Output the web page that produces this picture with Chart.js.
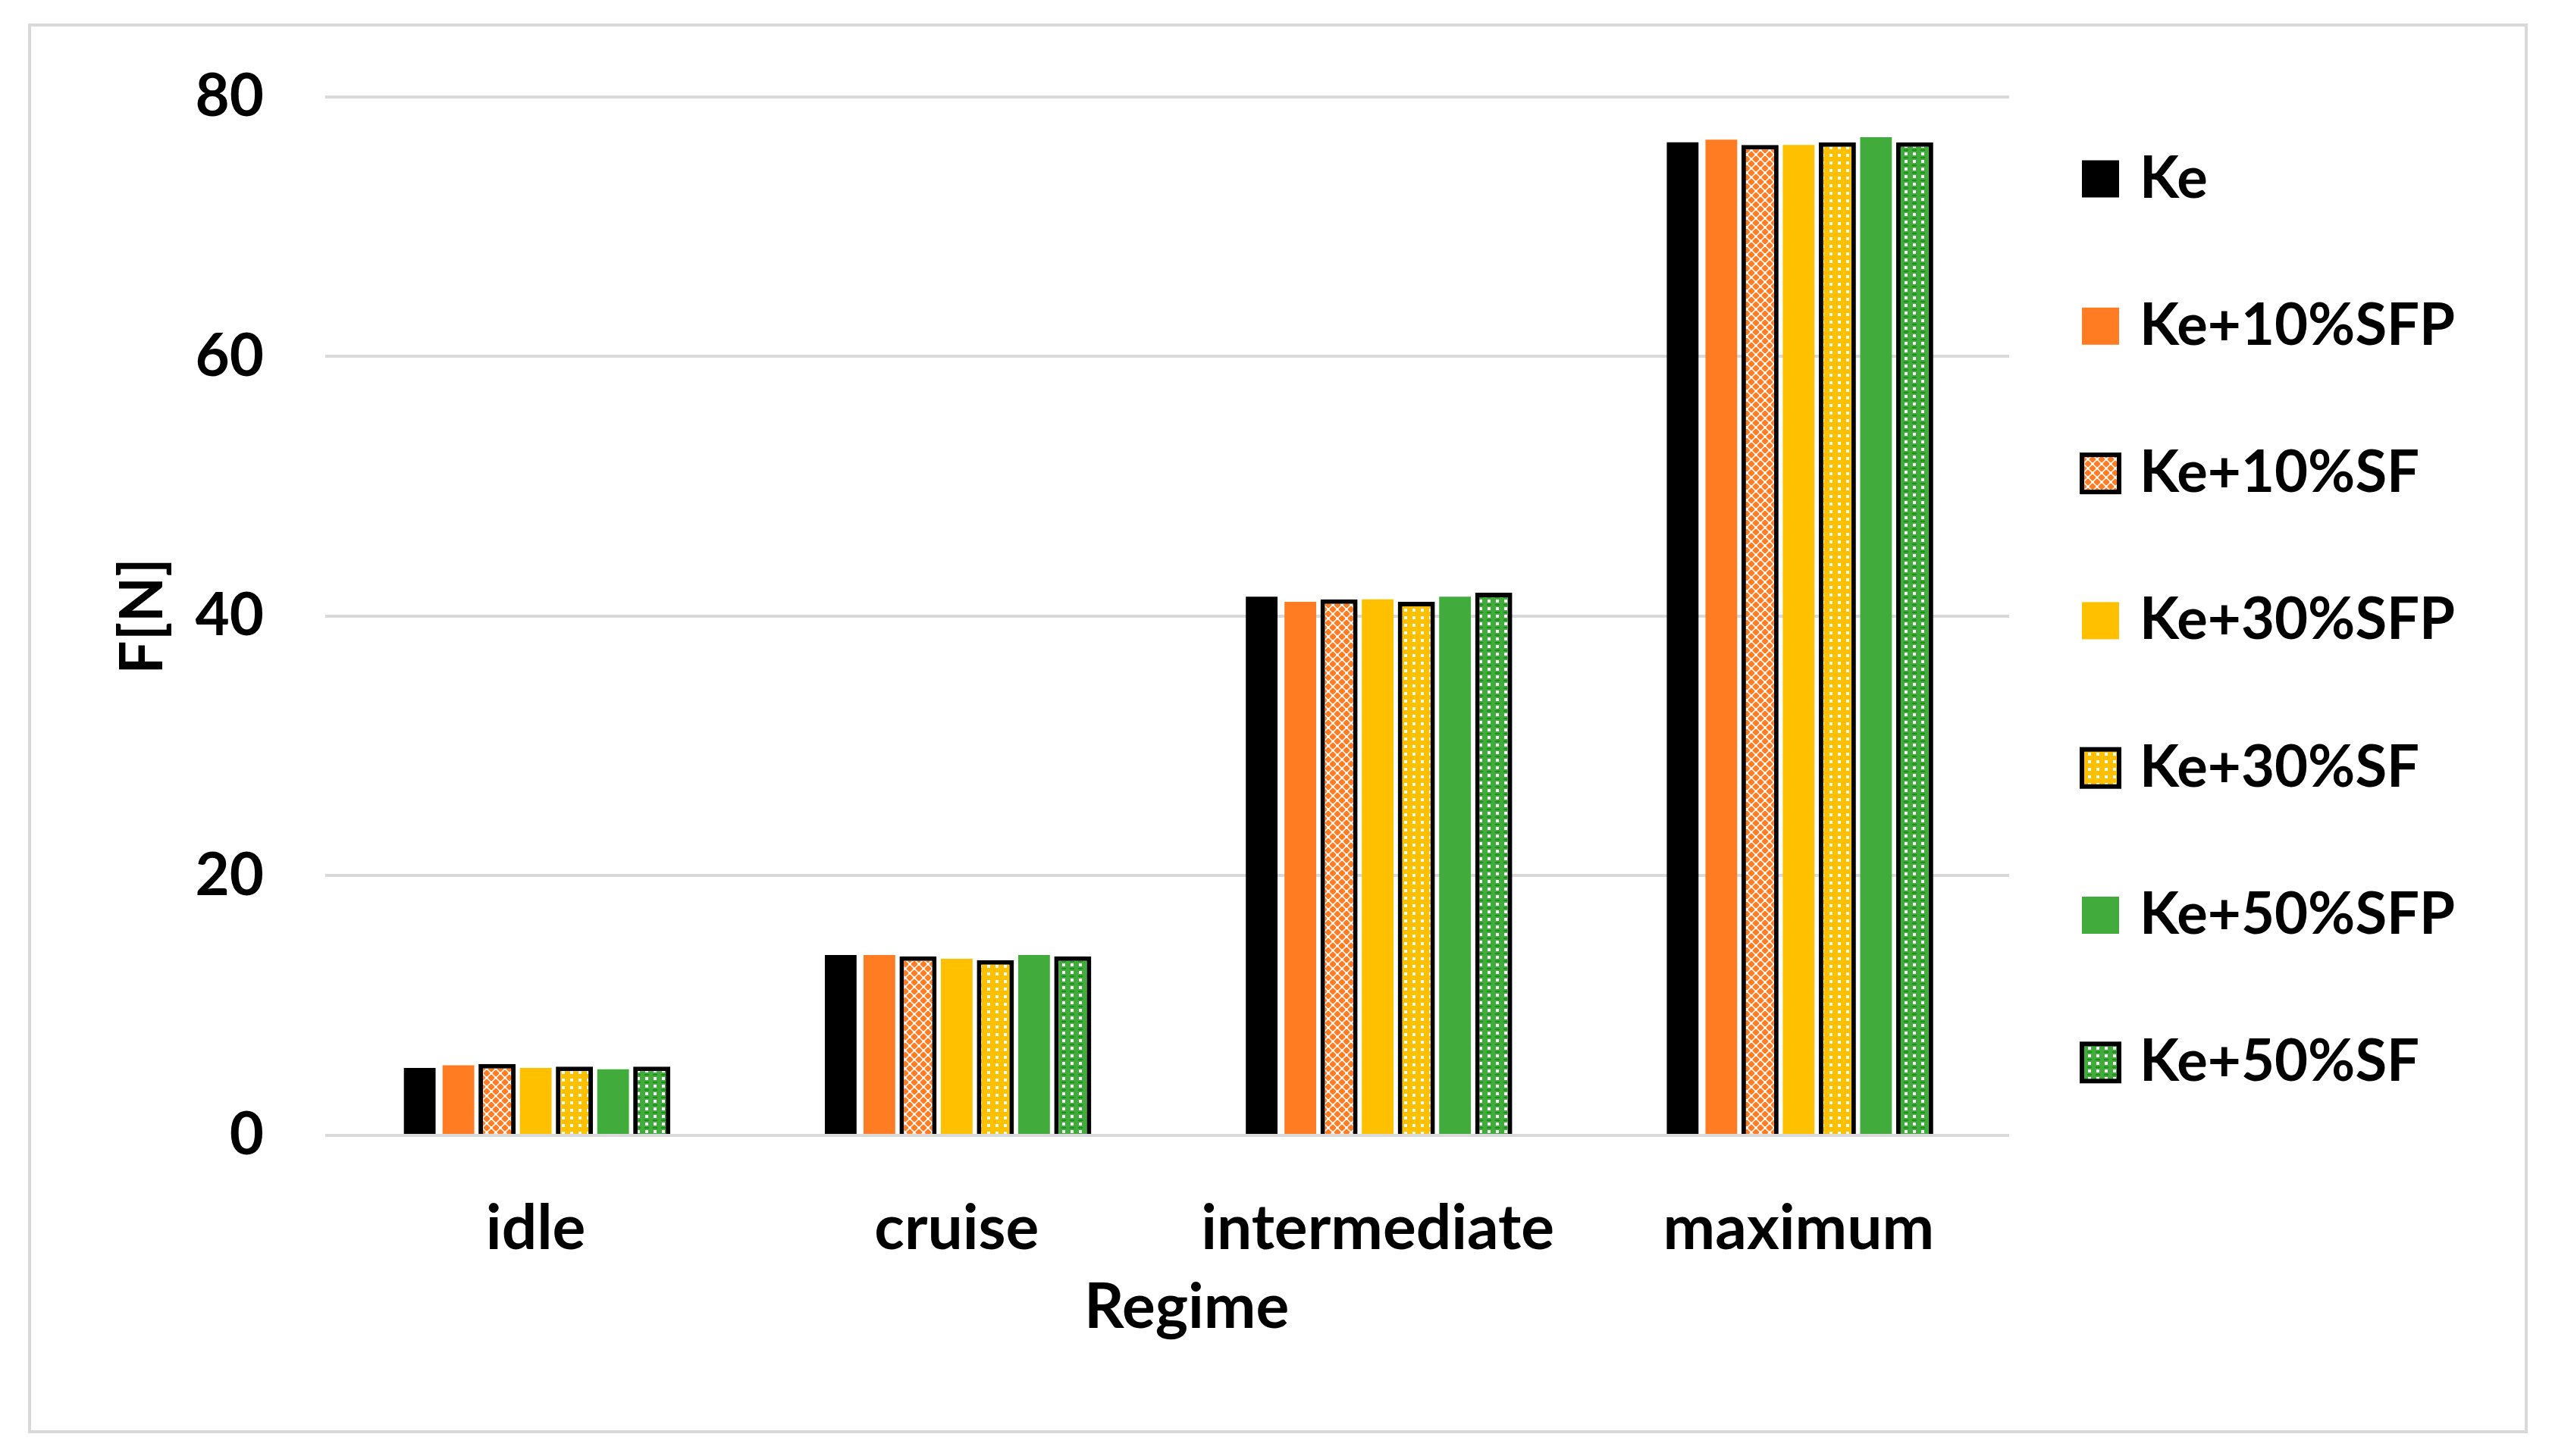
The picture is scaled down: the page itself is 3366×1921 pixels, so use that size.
<!DOCTYPE html>
<html>
<head>
<meta charset="utf-8">
<script src="https://cdn.jsdelivr.net/npm/chart.js@4.4.0/dist/chart.umd.min.js"></script>
<style>
  html, body { margin: 0; padding: 0; background: #fff; }
  #wrap { position: relative; width: 3366px; height: 1921px; }
</style>
</head>
<body>
<div id="wrap"><canvas id="thrustChart"></canvas></div>
<script>
// categories and series
var regimes = ['idle', 'cruise', 'intermediate', 'maximum'];
var seriesNames = ['Ke', 'Ke+10%SFP', 'Ke+10%SF', 'Ke+30%SFP', 'Ke+30%SF', 'Ke+50%SFP', 'Ke+50%SF'];
var ke       = [5.2, 13.9, 41.5, 76.5];
var ke10sfp  = [5.4, 13.9, 41.1, 76.7];
var ke10sf   = [5.5, 13.8, 41.3, 76.3];
var ke30sfp  = [5.2, 13.6, 41.3, 76.3];
var ke30sf   = [5.3, 13.5, 41.1, 76.5];
var ke50sfp  = [5.1, 13.9, 41.5, 76.9];
var ke50sf   = [5.3, 13.8, 41.8, 76.5];
var yMin = 0, yMax = 80, yStep = 20;

var BLACK = '#000000', ORANGE = '#FF7C22', YELLOW = '#FFC000', GREEN = '#41AC3B';
var FONT = 'Lato, "Open Sans", sans-serif';

// small tiled fills for the "SF" series
function makePattern(w, h, paint) {
    var tile = document.createElement('canvas');
    tile.width = w;
    tile.height = h;
    paint(tile.getContext('2d'), w, h);
    return document.createElement('canvas').getContext('2d').createPattern(tile, 'repeat');
}

var orangeLattice = makePattern(12, 12, function(c, w, h) {
    c.fillStyle = ORANGE;
    c.fillRect(0, 0, w, h);
    c.strokeStyle = 'rgba(255,255,255,0.9)';
    c.lineWidth = 1.6;
    c.beginPath();
    c.moveTo(0, 0); c.lineTo(w, h);
    c.moveTo(w, 0); c.lineTo(0, h);
    c.stroke();
    c.fillStyle = '#fff';
    c.fillRect(4.5, 4.5, 3, 3);
    c.fillRect(0, 0, 1.5, 1.5); c.fillRect(w - 1.5, 0, 1.5, 1.5);
    c.fillRect(0, h - 1.5, 1.5, 1.5); c.fillRect(w - 1.5, h - 1.5, 1.5, 1.5);
});

var yellowDots = makePattern(11, 10, function(c, w, h) {
    c.fillStyle = YELLOW;
    c.fillRect(0, 0, w, h);
    c.fillStyle = '#fff';
    c.fillRect(4, 3, 4, 4);
});

var greenDots = makePattern(11, 10, function(c, w, h) {
    c.fillStyle = GREEN;
    c.fillRect(0, 0, w, h);
    c.fillStyle = '#fff';
    c.fillRect(4, 1, 4, 4);
    c.fillStyle = '#1c8f1c';
    c.fillRect(3, 7, 6, 2);
});

function plainSet(label, data, color) {
    return {
        label: label,
        data: data,
        backgroundColor: color,
        borderWidth: 0,
        barPercentage: 0.82
    };
}

function patternSet(label, data, fill) {
    return {
        label: label,
        data: data,
        backgroundColor: fill,
        borderColor: BLACK,
        borderWidth: 6,
        borderSkipped: 'start',
        barPercentage: 0.96
    };
}

var datasets = [
    plainSet(seriesNames[0], ke, BLACK),
    plainSet(seriesNames[1], ke10sfp, ORANGE),
    patternSet(seriesNames[2], ke10sf, orangeLattice),
    plainSet(seriesNames[3], ke30sfp, YELLOW),
    patternSet(seriesNames[4], ke30sf, yellowDots),
    plainSet(seriesNames[5], ke50sfp, GREEN),
    patternSet(seriesNames[6], ke50sf, greenDots)
];

// outer frame + white background
var framePlugin = {
    id: 'frame',
    beforeDraw: function(chart) {
        var c = chart.ctx;
        c.save();
        c.fillStyle = '#fff';
        c.fillRect(0, 0, chart.width, chart.height);
        c.strokeStyle = '#d9d9d9';
        c.lineWidth = 4;
        c.strokeRect(39, 33, 3293, 1856);
        c.restore();
    }
};

// legend on the right, one item per row
var sideLegend = {
    id: 'sideLegend',
    afterDraw: function(chart) {
        var c = chart.ctx;
        var boxX = 2746, box = 49, textX = 2822, firstY = 236, step = 194.3;
        c.save();
        c.font = 'bold 76px ' + FONT;
        c.textBaseline = 'middle';
        c.textAlign = 'left';
        chart.data.datasets.forEach(function(ds, i) {
            var cy = firstY + i * step;
            c.fillStyle = ds.backgroundColor;
            c.fillRect(boxX, cy - box / 2, box, box);
            if (ds.borderWidth) {
                c.strokeStyle = ds.borderColor;
                c.lineWidth = 6;
                c.strokeRect(boxX, cy - box / 2, box, box);
            }
            c.fillStyle = '#000';
            c.fillText(ds.label, textX, cy);
        });
        c.restore();
    }
};

var chartContainer = document.getElementById('thrustChart');
var thrustChart = new Chart(chartContainer, {
    type: 'bar',
    data: {
        labels: regimes,
        datasets: datasets
    },
    options: {
        responsive: true,
        maintainAspectRatio: false,
        devicePixelRatio: 1,
        animation: false,
        layout: {
            padding: { left: 142, right: 716, top: 118, bottom: 146 }
        },
        datasets: {
            bar: { categoryPercentage: 0.643 }
        },
        plugins: {
            legend: { display: false },
            tooltip: { enabled: false }
        },
        scales: {
            x: {
                grid: { display: false },
                border: { display: false },
                ticks: {
                    color: '#000',
                    padding: 66,
                    font: { family: FONT, size: 82, weight: 'bold', lineHeight: 1.2 }
                },
                title: {
                    display: true,
                    text: '\u2002\u2009Regime',
                    color: '#000',
                    padding: 0,
                    font: { family: FONT, size: 82, weight: 'bold', lineHeight: 1.2 }
                },
                afterFit: function(scale) { scale.height = 277; }
            },
            y: {
                min: yMin,
                max: yMax,
                grid: {
                    color: '#d9d9d9',
                    lineWidth: 4,
                    drawTicks: false
                },
                border: { display: false },
                ticks: {
                    stepSize: yStep,
                    color: '#000',
                    padding: 81,
                    font: { family: FONT, size: 78, weight: 'bold', lineHeight: 1.2 }
                },
                title: {
                    display: true,
                    text: 'F[N]',
                    color: '#000',
                    padding: 0,
                    font: { family: FONT, size: 78, weight: 'bold', lineHeight: 1.2 }
                },
                afterFit: function(scale) { scale.width = 287; }
            }
        }
    },
    plugins: [framePlugin, sideLegend]
});
</script>
</body>
</html>
